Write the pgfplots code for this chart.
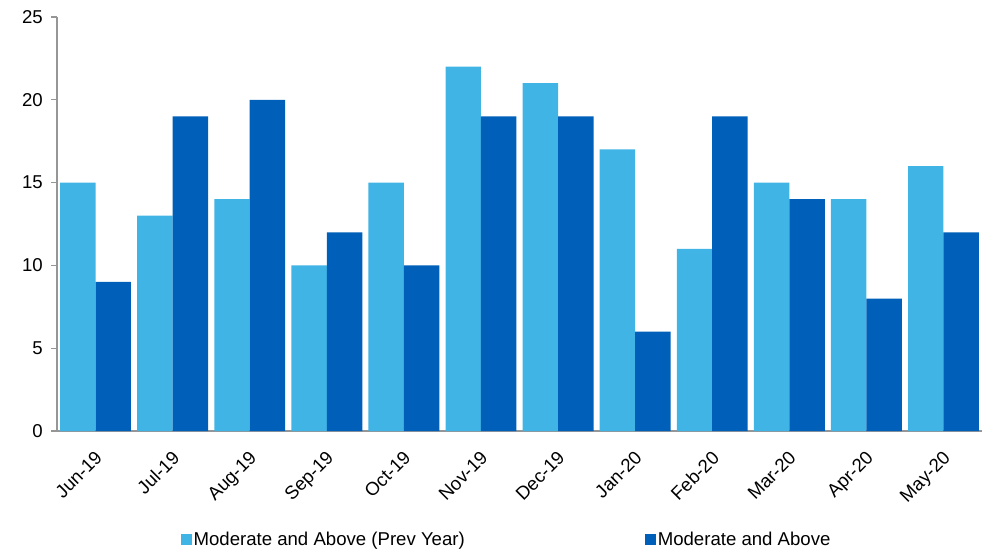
\documentclass[border=0pt]{standalone}
\usepackage{pgfplots}
\pgfplotsset{compat=1.18}
\usepackage{fontspec}
\setmainfont{Liberation Sans}
\definecolor{lightb}{RGB}{65,180,230}
\definecolor{darkb}{RGB}{0,95,184}
\definecolor{axgray}{RGB}{150,150,150}
\begin{document}
\begin{tikzpicture}[font=\fontsize{18.6bp}{21bp}\selectfont]
\begin{axis}[
  scale only axis,
  width=925bp, height=414bp,
  xmin=-0.5, xmax=11.5,
  ymin=0, ymax=25,
  ytick={0,5,...,25},
  axis lines*=left,
  axis line style={axgray, line width=1.2bp},
  xtick={0,...,11},
  xticklabels={Jun-19,Jul-19,Aug-19,Sep-19,Oct-19,Nov-19,Dec-19,Jan-20,Feb-20,Mar-20,Apr-20,May-20},
  minor xtick={-0.5,0.5,...,11.5},
  xtick style={draw=none},
  minor x tick style={axgray, line width=1.2bp},
  minor tick length=6bp,
  ytick style={axgray, line width=1.2bp},
  major tick length=6bp,
  tick align=outside,
  xticklabel style={rotate=45, anchor=north east, inner sep=0bp, yshift=-8bp, xshift=-10bp},
  yticklabel style={inner sep=1bp, xshift=-7bp},
  /pgf/number format/assume math mode=true,
  legend columns=2,
  legend style={at={(0.486,-0.263)}, anchor=center, draw=none, fill=none,
    /tikz/every even column/.append style={column sep=178bp},
    inner sep=0pt},
  legend cell align=left,
  legend image code/.code={\fill[#1] (0bp,-5.5bp) rectangle (11bp,5.5bp);},
]
\addplot[ybar, bar width=0.46, bar shift=-0.23, fill=lightb, draw=none] coordinates {
 (0,15) (1,13) (2,14) (3,10) (4,15) (5,22) (6,21) (7,17) (8,11) (9,15) (10,14) (11,16)};
\addlegendentry{Moderate and Above (Prev Year)}
\addplot[ybar, bar width=0.46, bar shift=0.23, fill=darkb, draw=none] coordinates {
 (0,9) (1,19) (2,20) (3,12) (4,10) (5,19) (6,19) (7,6) (8,19) (9,14) (10,8) (11,12)};
\addlegendentry{Moderate and Above}
\end{axis}
\pgfresetboundingbox
\useasboundingbox (-57bp,-123bp) rectangle (932bp,431bp);
\end{tikzpicture}
\end{document}
